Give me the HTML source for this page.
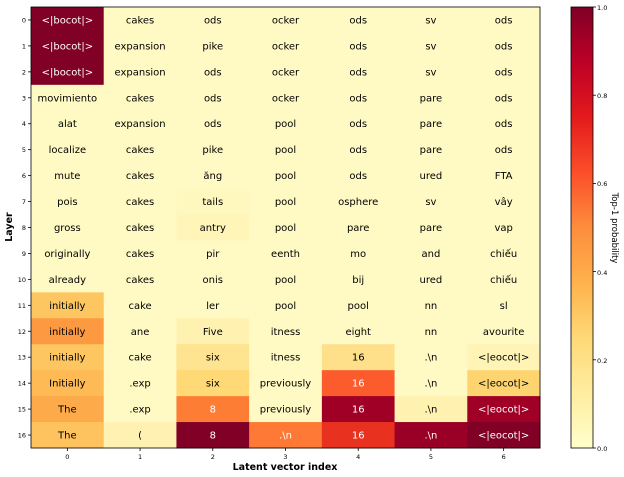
<!DOCTYPE html><html><head><style>body{margin:0;background:#fff}svg{display:block}text{font-family:"DejaVu Sans","Liberation Sans",sans-serif}</style></head><body>
<svg width="624" height="477" xmlns="http://www.w3.org/2000/svg">
<defs><linearGradient id="cb" x1="0" y1="1" x2="0" y2="0">
<stop offset="0" stop-color="#ffffcc"/><stop offset="0.125" stop-color="#ffeda0"/><stop offset="0.25" stop-color="#fed976"/><stop offset="0.375" stop-color="#feb24c"/><stop offset="0.5" stop-color="#fd8d3c"/><stop offset="0.625" stop-color="#fc4e2a"/><stop offset="0.75" stop-color="#e31a1c"/><stop offset="0.875" stop-color="#bd0026"/><stop offset="1" stop-color="#800026"/></linearGradient></defs>
<g id="cells"></g>
<rect x="31" y="7" width="509" height="441" fill="none" stroke="#000" stroke-width="0.8"/>
<rect x="571" y="7" width="22" height="441" fill="url(#cb)" stroke="#000" stroke-width="0.8"/>
<g font-size="6.5" fill="#000">
<text x="597" y="10">1.0</text><text x="597" y="98">0.8</text><text x="597" y="186">0.6</text><text x="597" y="275">0.4</text><text x="597" y="363">0.2</text><text x="597" y="451">0.0</text>
</g>
<text transform="translate(612,228) rotate(90)" text-anchor="middle" font-size="8.5">Top-1 probability</text>
<text x="285" y="470" text-anchor="middle" font-size="9.5" font-weight="bold">Latent vector index</text>
<text transform="translate(12,227) rotate(-90)" text-anchor="middle" font-size="9.5" font-weight="bold">Layer</text>
<g id="g"></g>
</svg>
<script>
const L=[["<|bocot|>","cakes","ods","ocker","ods","sv","ods"],["<|bocot|>","expansion","pike","ocker","ods","sv","ods"],["<|bocot|>","expansion","ods","ocker","ods","sv","ods"],["movimiento","cakes","ods","ocker","ods","pare","ods"],["alat","expansion","ods","pool","ods","pare","ods"],["localize","cakes","pike","pool","ods","pare","ods"],["mute","cakes","ăng","pool","ods","ured","FTA"],["pois","cakes","tails","pool","osphere","sv","vây"],["gross","cakes","antry","pool","pare","pare","vap"],["originally","cakes","pir","eenth","mo","and","chiếu"],["already","cakes","onis","pool","bij","ured","chiếu"],["initially","cake","ler","pool","pool","nn","sl"],["initially","ane","Five","itness","eight","nn","avourite"],["initially","cake","six","itness","16",".\\n","<|eocot|>"],["Initially",".exp","six","previously","16",".\\n","<|eocot|>"],["The",".exp","8","previously","16",".\\n","<|eocot|>"],["The","(","8",".\\n","16",".\\n","<|eocot|>"]];
const B="#fffac4";
const C={"0,0":"#800026","0,1":"#800026","0,2":"#800026","0,11":"#fec660","0,12":"#fd9941","0,13":"#fec660","0,14":"#fdba55","0,15":"#fdab4a","0,16":"#fec35e","1,16":"#fff1b2","2,7":"#fff8be","2,8":"#fff5b8","2,12":"#fff2b0","2,13":"#fee391","2,14":"#fed976","2,15":"#fd7d35","2,16":"#800026","3,16":"#fd7935","4,13":"#fee08b","4,14":"#fc5b2e","4,15":"#a10026","4,16":"#e8321f","5,15":"#fff2b0","5,16":"#9a0026","6,13":"#fff3b5","6,14":"#fed470","6,15":"#a00026","6,16":"#800026"};
const dark=new Set(["0,0","0,1","0,2","2,15","2,16","3,16","4,14","4,15","4,16","5,16","6,15","6,16"]);
let s="";const w=509/7,h=441/17;
for(let r=0;r<17;r++)for(let c=0;c<7;c++){const k=c+","+r;const x=31+c*w,y=7+r*h;
s+=`<rect x="${x}" y="${y}" width="${w+0.5}" height="${h+0.5}" fill="${C[k]||B}"/>`;
const t=L[r][c].replace(/&/g,"&amp;").replace(/</g,"&lt;").replace(/>/g,"&gt;");
s+=`<text x="${x+w/2}" y="${y+h/2+3.5}" text-anchor="middle" font-size="10" fill="${dark.has(k)?'#fff':'#000'}">${t}</text>`;}
let g="";
for(let r=0;r<17;r++){const y=7+(r+0.5)*h;g+=`<line x1="28" x2="31" y1="${y}" y2="${y}" stroke="#000" stroke-width="0.8"/><text x="26" y="${y+2.5}" text-anchor="end" font-size="6.5">${r}</text>`;}
for(let c=0;c<7;c++){const x=31+(c+0.5)*w;g+=`<line x1="${x}" x2="${x}" y1="448" y2="451" stroke="#000" stroke-width="0.8"/><text x="${x}" y="459" text-anchor="middle" font-size="6.5">${c}</text>`;}
[0,.2,.4,.6,.8,1].forEach(v=>{const y=448-v*441;g+=`<line x1="593" x2="596" y1="${y}" y2="${y}" stroke="#000" stroke-width="0.8"/>`;});
document.getElementById("cells").innerHTML=s;document.getElementById("g").innerHTML=g;
</script>
</body></html>
